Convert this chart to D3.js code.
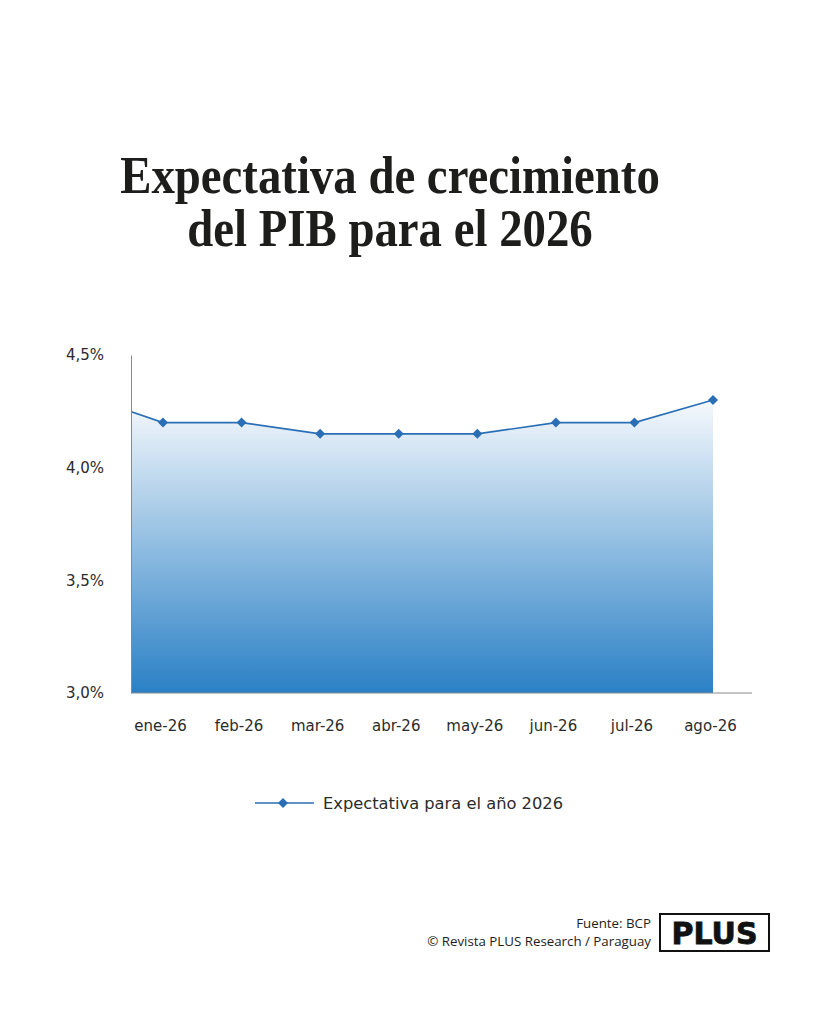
<!DOCTYPE html>
<html>
<head>
<meta charset="utf-8">
<script src="https://cdn.jsdelivr.net/npm/d3@7"></script>
<style>
  body { margin: 0; background: #fff; }
  svg { display: block; }
</style>
</head>
<body>
<div id="chart"></div>
<script>
// DATA
const months = ["ene-26", "feb-26", "mar-26", "abr-26", "may-26", "jun-26", "jul-26", "ago-26"];
const values = [4.2, 4.2, 4.15, 4.15, 4.15, 4.2, 4.2, 4.3];
// previous month (dic-25) only shows as the line entering from the left edge
const prevMonth = "dic-25";
const prevValue = 4.32;
const yTicks = [3.0, 3.5, 4.0, 4.5];
const seriesName = "Expectativa para el año 2026";

const width = 819, height = 1024;
const plot = { left: 131, right: 752, top: 355, bottom: 693 };
const labelFont = "DejaVu Sans, sans-serif";

const svg = d3.select("#chart").append("svg")
  .attr("width", width).attr("height", height)
  .attr("viewBox", `0 0 ${width} ${height}`);

// title (serif, slightly condensed)
const title = svg.append("text")
  .attr("transform", "translate(390,0) scale(0.9,1)")
  .attr("text-anchor", "middle")
  .attr("font-family", "Liberation Serif, serif")
  .attr("font-weight", "bold")
  .attr("font-size", 52)
  .attr("fill", "#1d1d1b");
title.append("tspan").attr("x", 0).attr("y", 193).text("Expectativa de crecimiento");
title.append("tspan").attr("x", 0).attr("y", 246).text("del PIB para el 2026");

// SCALES
const allMonths = [prevMonth, ...months];
const step = 78.57;
const x = d3.scalePoint()
  .domain(allMonths)
  .range([163 - step, 713]);

const y = d3.scaleLinear()
  .domain([3.0, 4.5])
  .range([plot.bottom, plot.top]);

const data = allMonths.map((m, i) => ({ m, v: i === 0 ? prevValue : values[i - 1] }));

// gradient
const defs = svg.append("defs");
const grad = defs.append("linearGradient")
  .attr("id", "areaGrad")
  .attr("gradientUnits", "userSpaceOnUse")
  .attr("x1", 0).attr("x2", 0)
  .attr("y1", y(4.3)).attr("y2", y(3.0));
grad.append("stop").attr("offset", "0%").attr("stop-color", "#f6f9fd");
grad.append("stop").attr("offset", "100%").attr("stop-color", "#2a80c5");

defs.append("clipPath").attr("id", "plotClip")
  .append("rect")
  .attr("x", plot.left).attr("y", 0)
  .attr("width", plot.right - plot.left).attr("height", height);

const g = svg.append("g").attr("clip-path", "url(#plotClip)");

g.append("path")
  .datum(data)
  .attr("fill", "url(#areaGrad)")
  .attr("d", d3.area()
    .x(d => x(d.m))
    .y0(y(3.0))
    .y1(d => y(d.v)));

g.append("path")
  .datum(data)
  .attr("fill", "none")
  .attr("stroke", "#2a6fb5")
  .attr("stroke-width", 1.6)
  .attr("d", d3.line().x(d => x(d.m)).y(d => y(d.v)));

const diamond = d3.symbol(d3.symbolSquare).size(50);
g.selectAll(".dot")
  .data(data.slice(1))
  .join("path")
  .attr("class", "dot")
  .attr("fill", "#2a6fb5")
  .attr("d", diamond)
  .attr("transform", d => `translate(${x(d.m)},${y(d.v)}) rotate(45)`);

// AXES
const xAxis = svg.append("g")
  .attr("transform", `translate(0,${plot.bottom})`)
  .call(d3.axisBottom(x).tickValues(months).tickSize(0).tickPadding(27));
xAxis.select(".domain").attr("d", `M${plot.left},0H${plot.right}`).attr("stroke", "#8a8a8a");
xAxis.selectAll("text")
  .attr("font-family", labelFont)
  .attr("font-size", 15)
  .attr("fill", "#2b2b2b")
  .attr("dx", -3);

const yAxis = svg.append("g")
  .attr("transform", `translate(${plot.left},0)`)
  .call(d3.axisLeft(y).tickValues(yTicks).tickSize(0).tickPadding(27)
    .tickFormat(d => d3.format(".1f")(d).replace(".", ",") + "%"));
yAxis.select(".domain").attr("stroke", "#8a8a8a");
yAxis.selectAll("text")
  .attr("font-family", labelFont)
  .attr("font-size", 15)
  .attr("fill", "#2b2b2b");

// legend
const legend = svg.append("g").attr("transform", "translate(255,803)");
legend.append("line")
  .attr("x1", 0).attr("x2", 59)
  .attr("stroke", "#2a6fb5").attr("stroke-width", 1.6);
legend.append("path")
  .attr("d", diamond)
  .attr("fill", "#2a6fb5")
  .attr("transform", "translate(28,0) rotate(45)");
legend.append("text")
  .attr("x", 68).attr("y", 6)
  .attr("font-family", labelFont)
  .attr("font-size", 16.3)
  .attr("fill", "#2b2b2b")
  .text(seriesName);

// footer
const foot = svg.append("text")
  .attr("text-anchor", "end")
  .attr("font-family", "Open Sans, sans-serif")
  .attr("font-size", 13.3)
  .attr("fill", "#1d1d1b");
foot.append("tspan").attr("x", 651).attr("y", 928).text("Fuente: BCP");
foot.append("tspan").attr("x", 651).attr("y", 946).text("© Revista PLUS Research / Paraguay");

svg.append("rect")
  .attr("x", 660).attr("y", 914)
  .attr("width", 109).attr("height", 37)
  .attr("fill", "none").attr("stroke", "#111").attr("stroke-width", 2);
svg.append("text")
  .attr("x", 714.5).attr("y", 944)
  .attr("text-anchor", "middle")
  .attr("font-family", "DejaVu Sans, sans-serif")
  .attr("font-weight", "bold")
  .attr("font-size", 30)
  .attr("fill", "#111")
  .attr("stroke", "#111")
  .attr("stroke-width", 0.8)
  .text("PLUS");
</script>
</body>
</html>
